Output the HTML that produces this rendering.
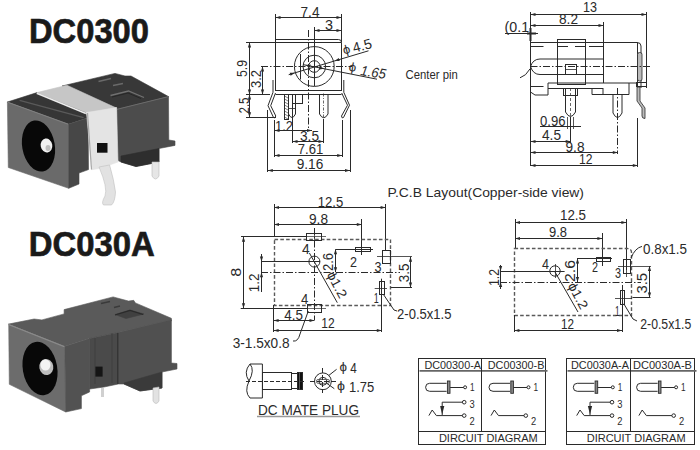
<!DOCTYPE html><html><head><meta charset="utf-8"><style>html,body{margin:0;padding:0;background:#fff;}svg{display:block;}text{font-family:"Liberation Sans",sans-serif;}</style></head><body>
<svg width="700" height="450" viewBox="0 0 700 450">
<rect width="700" height="450" fill="#ffffff"/>
<text x="29" y="43" font-size="35.5" fill="#1a1a1a" font-weight="bold" font-style="normal" text-anchor="start" textLength="120" lengthAdjust="spacingAndGlyphs" stroke="#1a1a1a" stroke-width="0.7">DC0300</text>
<text x="28.8" y="255.5" font-size="35.5" fill="#1a1a1a" font-weight="bold" font-style="normal" text-anchor="start" textLength="126" lengthAdjust="spacingAndGlyphs" stroke="#1a1a1a" stroke-width="0.7">DC030A</text>
<polygon points="62,86 115,73.4 125,76 131,76 168.5,96.6 116.6,109.4" fill="#383838" stroke="#383838" stroke-width="0.6"/>
<path d="M98.5,81.5 L111,78.5" stroke="#6a6a6a" stroke-width="1.5" fill="none"/>
<path d="M113,85.5 L123,83.5" stroke="#6a6a6a" stroke-width="1.5" fill="none"/>
<path d="M110.5,95.5 L128.5,91 L144,97.5" stroke="#707070" stroke-width="1.3" fill="none"/>
<path d="M112,97 L128,93 L141,98.5" stroke="#262626" stroke-width="1" fill="none"/>
<polygon points="116.6,109.4 168.5,96.6 168.8,140 175,141 175,145.4 159,148.5 159,162 136,166.5 121,162 117,160" fill="#4c4c4c" stroke="#4c4c4c" stroke-width="0.6"/>
<path d="M116.6,109.4 L168.5,96.6" stroke="#6a6a6a" stroke-width="1" fill="none"/>
<polygon points="121,156 159,148.5 159,162 136,166.5 121,162" fill="#2e2e2e" stroke="#2e2e2e" stroke-width="0.6"/>
<path d="M152,162 L159,162 L159,176 Q155.5,182 152,176 Z" fill="#e6e6e6" stroke="#bbb" stroke-width="0.6"/>
<polygon points="7.4,102 37,92.6 85.4,112 88,118 68.7,124.2" fill="#363636" stroke="#363636" stroke-width="0.6"/>
<path d="M19.6,100.3 L83.6,117.6" stroke="#5a5a5a" stroke-width="1.3" fill="none"/>
<polygon points="7.4,102 68.7,124.2 68.7,188.3 8.3,167.5" fill="#6a6a6a" stroke="#6a6a6a" stroke-width="0.6"/>
<path d="M7.8,102.3 L68.7,124.4 L87.5,118.3" stroke="#808080" stroke-width="1" fill="none"/>
<polygon points="68.7,124.2 88,118 88.5,169.6 79,173 79,184 68.7,188.3" fill="#474747" stroke="#474747" stroke-width="0.6"/>
<ellipse cx="38.5" cy="146" rx="16.3" ry="25.8" transform="rotate(-10 38.5 146)" fill="#080808"/>
<ellipse cx="46.5" cy="145.5" rx="5.8" ry="7" transform="rotate(-10 46.5 145.5)" fill="#f0f0f0"/>
<ellipse cx="48" cy="148" rx="2.5" ry="3" fill="#bdbdbd"/>
<polygon points="37,92.6 66.9,85.2 113.3,106.6 116.6,108 87.5,113 85.4,112" fill="#c6c6c6" stroke="#c6c6c6" stroke-width="0.6"/>
<path d="M36.7,93.2 L85.9,113.6" stroke="#ececec" stroke-width="1.6" fill="none"/>
<polygon points="86.5,112.6 116.6,107.6 118,162 109.6,165 99,168.6 91.7,169.7" fill="#e4e4e4" stroke="#e4e4e4" stroke-width="0.6"/>
<path d="M87.5,113 L91.5,169.5" stroke="#a8a8a8" stroke-width="1.2" fill="none"/>
<path d="M99,167 L109.6,165 Q114,180 115.5,192 Q115,202 111.5,205 L103.5,205 Q101,203 105,196 Q108,188 99,167 Z" fill="#e2e2e2" stroke="#c0c0c0" stroke-width="0.6"/>
<rect x="97" y="143" width="10.5" height="9.7" fill="#111"/>
<polygon points="8.4,324.1 34.1,319 41.9,319.9 64.1,313.9 64.1,309.6 113.1,296.9 128.6,301.1 133.7,300.3 135.4,302.9 171.4,318.3 171.4,320.9 118.3,332.5 89.6,338.5 64.8,346.5" fill="#5a5a5a" stroke="#5a5a5a" stroke-width="0.6"/>
<path d="M101,303.5 L110,301.5" stroke="#3a3a3a" stroke-width="1.4" fill="none"/>
<path d="M114,307.5 L120,306" stroke="#3a3a3a" stroke-width="1.4" fill="none"/>
<polygon points="115,314.5 130,310 144,314 126,318.5" fill="#404040" stroke="#404040" stroke-width="0.6"/>
<path d="M115,315 L130,310.5 L143,314.5" stroke="#2a2a2a" stroke-width="1.2" fill="none"/>
<polygon points="8.7,324.4 64.8,346.5 65.7,412 9.3,384.3" fill="#6c6c6c" stroke="#6c6c6c" stroke-width="0.6"/>
<path d="M9,324.7 L64.8,346.8 L89.6,338.8" stroke="#8a8a8a" stroke-width="1.1" fill="none"/>
<path d="M118.3,332.8 L171.4,320.2" stroke="#7a7a7a" stroke-width="1.1" fill="none"/>
<polygon points="64.8,346.5 89.6,338.5 89.6,392 81.4,395.7 81.4,408.6 65.7,412" fill="#525252" stroke="#525252" stroke-width="0.6"/>
<polygon points="89.6,338.5 118.3,332.5 118.3,384 104,387 89.6,389" fill="#4a4a4a" stroke="#4a4a4a" stroke-width="0.6"/>
<path d="M95,338 V384 M112,333 V383" stroke="#3c3c3c" stroke-width="0.8" fill="none"/>
<rect x="95.4" y="366.6" width="7.2" height="10" fill="#151515"/>
<path d="M101,388 L104,388 L104,397 L101,397 Z" fill="#d0d0d0"/>
<polygon points="118.3,332.5 171.4,319.8 171.4,363 177,363.5 177,369 162,372 162,388 140,391 124,384 118.3,384" fill="#505050" stroke="#505050" stroke-width="0.6"/>
<path d="M117.8,333 V384" stroke="#353535" stroke-width="1.6" fill="none"/>
<polygon points="124,383 162,372 162,388 140,391 124,384" fill="#3a3a3a" stroke="#3a3a3a" stroke-width="0.6"/>
<path d="M153,388 L159,387 L159,401 Q156,406 153,401 Z" fill="#e2e2e2" stroke="#bbb" stroke-width="0.6"/>
<ellipse cx="40" cy="368.5" rx="17.2" ry="27" transform="rotate(-10 40 368.5)" fill="#080808"/>
<ellipse cx="46.3" cy="367" rx="7" ry="8" transform="rotate(-10 46.3 367)" fill="#bdbdbd"/>
<ellipse cx="45.5" cy="365" rx="5" ry="5.5" fill="#f4f4f4"/>
<line x1="275.5" y1="17.5" x2="341.5" y2="17.5" stroke="#2a2a2a" stroke-width="1" />
<polygon points="275.5,17.5 280.5,15.9 280.5,19.1" fill="#2a2a2a" stroke="none" stroke-width="0"/>
<polygon points="341.5,17.5 336.5,19.1 336.5,15.9" fill="#2a2a2a" stroke="none" stroke-width="0"/>
<line x1="275.5" y1="14" x2="275.5" y2="91" stroke="#2a2a2a" stroke-width="1" />
<line x1="341.5" y1="14" x2="341.5" y2="42" stroke="#2a2a2a" stroke-width="1" />
<text x="300.5" y="17" font-size="14" fill="#2a2a2a" font-weight="normal" font-style="normal" text-anchor="start" textLength="19" lengthAdjust="spacingAndGlyphs">7.4</text>
<line x1="314.5" y1="30.5" x2="341.5" y2="30.5" stroke="#2a2a2a" stroke-width="1" />
<polygon points="314.5,30.5 319.5,28.9 319.5,32.1" fill="#2a2a2a" stroke="none" stroke-width="0"/>
<polygon points="341.5,30.5 336.5,32.1 336.5,28.9" fill="#2a2a2a" stroke="none" stroke-width="0"/>
<text x="325" y="29.5" font-size="14" fill="#2a2a2a" font-weight="normal" font-style="normal" text-anchor="start" textLength="8" lengthAdjust="spacingAndGlyphs">3</text>
<line x1="314.5" y1="27" x2="314.5" y2="86" stroke="#2a2a2a" stroke-width="1" />
<path d="M275.5,39.5 H338.5 Q341.5,39.5 341.5,42.5 V91" stroke="#2a2a2a" stroke-width="1" fill="none"/>
<line x1="275.5" y1="42.5" x2="341.5" y2="42.5" stroke="#2a2a2a" stroke-width="1" />
<line x1="275.5" y1="90.5" x2="341.5" y2="90.5" stroke="#2a2a2a" stroke-width="1" />
<line x1="275.5" y1="94.5" x2="341.5" y2="94.5" stroke="#2a2a2a" stroke-width="1" />
<line x1="261" y1="66.5" x2="352" y2="66.5" stroke="#2a2a2a" stroke-width="1" stroke-dasharray="7,2,1.5,2" />
<line x1="308.5" y1="30" x2="308.5" y2="131" stroke="#2a2a2a" stroke-width="1" stroke-dasharray="7,2,1.5,2" />
<circle cx="314.3" cy="66.5" r="19.9" fill="none" stroke="#2a2a2a" stroke-width="1"/>
<circle cx="314.3" cy="66.5" r="11.3" fill="none" stroke="#2a2a2a" stroke-width="1"/>
<circle cx="314.3" cy="66.5" r="5.8" fill="none" stroke="#2a2a2a" stroke-width="1"/>
<line x1="300.5" y1="54" x2="300.5" y2="79.5" stroke="#2a2a2a" stroke-width="1" />
<line x1="288.7" y1="74.7" x2="368.5" y2="50.8" stroke="#2a2a2a" stroke-width="1" />
<polygon points="295,72.8 290.66,75.76 289.75,72.69" fill="#2a2a2a" stroke="none" stroke-width="0"/>
<polygon points="334.5,61 338.84,58.04 339.75,61.11" fill="#2a2a2a" stroke="none" stroke-width="0"/>
<text x="344" y="54.5" font-size="12.5" fill="#2a2a2a" font-weight="normal" font-style="normal" text-anchor="start" textLength="7.3" lengthAdjust="spacingAndGlyphs" transform="rotate(-15 344 54.5)">ϕ</text>
<text x="354" y="52.8" font-size="14" fill="#2a2a2a" font-weight="normal" font-style="normal" text-anchor="start" textLength="19.5" lengthAdjust="spacingAndGlyphs" transform="rotate(-15 354 52.8)">4.5</text>
<line x1="303" y1="64.6" x2="377" y2="79.2" stroke="#2a2a2a" stroke-width="1" />
<polygon points="305.5,65.1 310.71,64.49 310.1,67.63" fill="#2a2a2a" stroke="none" stroke-width="0"/>
<polygon points="324.3,68.8 319.09,69.41 319.7,66.27" fill="#2a2a2a" stroke="none" stroke-width="0"/>
<text x="348.3" y="70.8" font-size="12.5" fill="#2a2a2a" font-weight="normal" font-style="normal" text-anchor="start" textLength="7.5" lengthAdjust="spacingAndGlyphs" transform="rotate(9 348.3 70.8)">ϕ</text>
<text x="360" y="75" font-size="14" fill="#2a2a2a" font-weight="normal" font-style="italic" text-anchor="start" textLength="25.5" lengthAdjust="spacingAndGlyphs" transform="rotate(9 360 75)">1.65</text>
<path d="M273,80 V92.3 L268,105.7 L273.5,117.5 Q275,119 275.8,116 L270.7,105.7 L275.5,93" stroke="#2a2a2a" stroke-width="1" fill="none"/>
<path d="M343.8,80 V92.3 L349.5,105.2 L343.5,117.5 Q341.8,119 341.5,116 L347.5,105.2 L341.7,93" stroke="#2a2a2a" stroke-width="1" fill="none"/>
<rect x="284.5" y="94.5" width="4.0" height="25.0" fill="none" stroke="#2a2a2a" stroke-width="1" rx="0"/>
<line x1="284.5" y1="96" x2="288" y2="98" stroke="#2a2a2a" stroke-width="0.6" />
<line x1="284.5" y1="99" x2="288" y2="101" stroke="#2a2a2a" stroke-width="0.6" />
<line x1="284.5" y1="102" x2="288" y2="104" stroke="#2a2a2a" stroke-width="0.6" />
<line x1="284.5" y1="105" x2="288" y2="107" stroke="#2a2a2a" stroke-width="0.6" />
<line x1="284.5" y1="108" x2="288" y2="110" stroke="#2a2a2a" stroke-width="0.6" />
<line x1="284.5" y1="111" x2="288" y2="113" stroke="#2a2a2a" stroke-width="0.6" />
<line x1="284.5" y1="114" x2="288" y2="116" stroke="#2a2a2a" stroke-width="0.6" />
<line x1="284.5" y1="117" x2="288" y2="119" stroke="#2a2a2a" stroke-width="0.6" />
<rect x="292.5" y="94.5" width="10.0" height="9.0" fill="none" stroke="#2a2a2a" stroke-width="1" rx="0"/>
<path d="M288.5,95 V114 Q292,121 295.5,114 V95" stroke="#2a2a2a" stroke-width="1" fill="none"/>
<line x1="288.5" y1="108.5" x2="296" y2="108.5" stroke="#2a2a2a" stroke-width="0.8" />
<line x1="292.5" y1="95" x2="292.5" y2="121" stroke="#2a2a2a" stroke-width="0.7" stroke-dasharray="2,1.5" />
<path d="M319.5,94.5 V114 Q323.7,121.5 328,114 V94.5" stroke="#2a2a2a" stroke-width="1" fill="none"/>
<line x1="323.5" y1="93.5" x2="323.5" y2="122" stroke="#2a2a2a" stroke-width="0.7" stroke-dasharray="3,1.5,1,1.5" />
<line x1="249.5" y1="42.5" x2="249.5" y2="94.5" stroke="#2a2a2a" stroke-width="1" />
<polygon points="249.5,42.5 251.1,47.5 247.9,47.5" fill="#2a2a2a" stroke="none" stroke-width="0"/>
<polygon points="249.5,94.5 247.9,89.5 251.1,89.5" fill="#2a2a2a" stroke="none" stroke-width="0"/>
<line x1="246" y1="42.5" x2="275.5" y2="42.5" stroke="#2a2a2a" stroke-width="1" />
<line x1="246" y1="94.5" x2="270" y2="94.5" stroke="#2a2a2a" stroke-width="1" />
<text x="246.5" y="77" font-size="14" fill="#2a2a2a" font-weight="normal" font-style="normal" text-anchor="start" textLength="17" lengthAdjust="spacingAndGlyphs" transform="rotate(-90 246.5 77)">5.9</text>
<line x1="262.5" y1="66.5" x2="262.5" y2="94.5" stroke="#2a2a2a" stroke-width="1" />
<polygon points="262.5,66.5 264.1,71.5 260.9,71.5" fill="#2a2a2a" stroke="none" stroke-width="0"/>
<polygon points="262.5,94.5 260.9,89.5 264.1,89.5" fill="#2a2a2a" stroke="none" stroke-width="0"/>
<text x="260.5" y="88" font-size="14" fill="#2a2a2a" font-weight="normal" font-style="normal" text-anchor="start" textLength="18" lengthAdjust="spacingAndGlyphs" transform="rotate(-90 260.5 88)">3.2</text>
<line x1="249.5" y1="94.5" x2="249.5" y2="117.3" stroke="#2a2a2a" stroke-width="1" />
<polygon points="249.5,94.5 251.1,99.5 247.9,99.5" fill="#2a2a2a" stroke="none" stroke-width="0"/>
<polygon points="249.5,117.3 247.9,112.3 251.1,112.3" fill="#2a2a2a" stroke="none" stroke-width="0"/>
<line x1="246" y1="117.5" x2="276" y2="117.5" stroke="#2a2a2a" stroke-width="1" />
<text x="248.5" y="113.5" font-size="14" fill="#2a2a2a" font-weight="normal" font-style="normal" text-anchor="start" textLength="16" lengthAdjust="spacingAndGlyphs" transform="rotate(-90 248.5 113.5)">2.5</text>
<line x1="274.5" y1="130.5" x2="312" y2="130.5" stroke="#2a2a2a" stroke-width="1" />
<polygon points="274.5,130.5 279.5,128.9 279.5,132.1" fill="#2a2a2a" stroke="none" stroke-width="0"/>
<polygon points="312,130.5 307.0,132.1 307.0,128.9" fill="#2a2a2a" stroke="none" stroke-width="0"/>
<text x="275" y="131" font-size="14" fill="#2a2a2a" font-weight="normal" font-style="normal" text-anchor="start" textLength="18" lengthAdjust="spacingAndGlyphs">1.2</text>
<line x1="274.5" y1="120" x2="274.5" y2="157" stroke="#2a2a2a" stroke-width="1" />
<line x1="292.5" y1="141.5" x2="323.5" y2="141.5" stroke="#2a2a2a" stroke-width="1" />
<polygon points="292.5,141.5 297.5,139.9 297.5,143.1" fill="#2a2a2a" stroke="none" stroke-width="0"/>
<polygon points="323.5,141.5 318.5,143.1 318.5,139.9" fill="#2a2a2a" stroke="none" stroke-width="0"/>
<line x1="292.5" y1="103" x2="292.5" y2="143" stroke="#2a2a2a" stroke-width="1" />
<line x1="323.5" y1="119" x2="323.5" y2="143" stroke="#2a2a2a" stroke-width="1" />
<text x="300" y="141" font-size="14" fill="#2a2a2a" font-weight="normal" font-style="normal" text-anchor="start" textLength="19" lengthAdjust="spacingAndGlyphs">3.5</text>
<line x1="274.5" y1="155.5" x2="342.2" y2="155.5" stroke="#2a2a2a" stroke-width="1" />
<polygon points="274.5,155.5 279.5,153.9 279.5,157.1" fill="#2a2a2a" stroke="none" stroke-width="0"/>
<polygon points="342.2,155.5 337.2,157.1 337.2,153.9" fill="#2a2a2a" stroke="none" stroke-width="0"/>
<line x1="342.5" y1="120" x2="342.5" y2="157" stroke="#2a2a2a" stroke-width="1" />
<text x="297.8" y="153.5" font-size="14" fill="#2a2a2a" font-weight="normal" font-style="normal" text-anchor="start" textLength="25.5" lengthAdjust="spacingAndGlyphs">7.61</text>
<line x1="267.8" y1="170.5" x2="350" y2="170.5" stroke="#2a2a2a" stroke-width="1" />
<polygon points="267.8,170.5 272.8,168.9 272.8,172.1" fill="#2a2a2a" stroke="none" stroke-width="0"/>
<polygon points="350,170.5 345.0,172.1 345.0,168.9" fill="#2a2a2a" stroke="none" stroke-width="0"/>
<line x1="267.5" y1="110" x2="267.5" y2="172" stroke="#2a2a2a" stroke-width="1" />
<line x1="350.5" y1="110" x2="350.5" y2="172" stroke="#2a2a2a" stroke-width="1" />
<text x="296.7" y="169" font-size="14" fill="#2a2a2a" font-weight="normal" font-style="normal" text-anchor="start" textLength="26.6" lengthAdjust="spacingAndGlyphs">9.16</text>
<text x="405.6" y="78.8" font-size="12.8" fill="#2a2a2a" font-weight="normal" font-style="normal" text-anchor="start" textLength="52.2" lengthAdjust="spacingAndGlyphs">Center pin</text>
<path d="M520,77.8 Q526,76 530,68.9" stroke="#2a2a2a" stroke-width="1" fill="none"/>
<line x1="530.5" y1="12" x2="530.5" y2="166" stroke="#2a2a2a" stroke-width="1" />
<line x1="530.5" y1="14.5" x2="646.5" y2="14.5" stroke="#2a2a2a" stroke-width="1" />
<polygon points="530.5,14.5 535.5,12.9 535.5,16.1" fill="#2a2a2a" stroke="none" stroke-width="0"/>
<polygon points="646.5,14.5 641.5,16.1 641.5,12.9" fill="#2a2a2a" stroke="none" stroke-width="0"/>
<line x1="646.5" y1="12" x2="646.5" y2="88" stroke="#2a2a2a" stroke-width="1" />
<text x="583" y="11.5" font-size="14" fill="#2a2a2a" font-weight="normal" font-style="normal" text-anchor="start" textLength="14" lengthAdjust="spacingAndGlyphs">13</text>
<line x1="530.5" y1="25.5" x2="603.5" y2="25.5" stroke="#2a2a2a" stroke-width="1" />
<polygon points="530.5,25.5 535.5,23.9 535.5,27.1" fill="#2a2a2a" stroke="none" stroke-width="0"/>
<polygon points="603.5,25.5 598.5,27.1 598.5,23.9" fill="#2a2a2a" stroke="none" stroke-width="0"/>
<line x1="603.5" y1="22" x2="603.5" y2="43" stroke="#2a2a2a" stroke-width="1" />
<text x="559" y="24" font-size="14" fill="#2a2a2a" font-weight="normal" font-style="normal" text-anchor="start" textLength="19" lengthAdjust="spacingAndGlyphs">8.2</text>
<line x1="505" y1="33.5" x2="538" y2="33.5" stroke="#2a2a2a" stroke-width="1" />
<line x1="530.5" y1="28" x2="530.5" y2="41" stroke="#2a2a2a" stroke-width="2" />
<line x1="527" y1="33.5" x2="536" y2="33.5" stroke="#2a2a2a" stroke-width="2" />
<text x="504.6" y="31.6" font-size="14" fill="#2a2a2a" font-weight="normal" font-style="normal" text-anchor="start" textLength="24.5" lengthAdjust="spacingAndGlyphs">(0.1</text>
<path d="M530.5,42.5 H637 Q641,42.5 641,46 V88" stroke="#2a2a2a" stroke-width="1" fill="none"/>
<line x1="637.5" y1="42.5" x2="637.5" y2="88" stroke="#2a2a2a" stroke-width="1" />
<rect x="637.5" y="52.5" width="4.5" height="28.5" rx="2" fill="#bbb" stroke="#2a2a2a" stroke-width="0.8"/>
<rect x="557.5" y="39.5" width="28.0" height="45.0" fill="none" stroke="#2a2a2a" stroke-width="1" rx="0"/>
<line x1="530.5" y1="46.5" x2="543.5" y2="46.5" stroke="#2a2a2a" stroke-width="1" />
<line x1="557.5" y1="46.5" x2="568" y2="46.5" stroke="#2a2a2a" stroke-width="1" />
<line x1="575" y1="46.5" x2="585" y2="46.5" stroke="#2a2a2a" stroke-width="1" />
<line x1="589" y1="46.5" x2="603" y2="46.5" stroke="#2a2a2a" stroke-width="1" />
<line x1="530.5" y1="66.5" x2="652" y2="66.5" stroke="#2a2a2a" stroke-width="1" stroke-dasharray="7,2,1.5,2" />
<path d="M603,59 H540 Q533,59 530.5,66.5 Q533,74.5 540,74.5 H603" stroke="#2a2a2a" stroke-width="1" fill="none"/>
<line x1="603.5" y1="41" x2="603.5" y2="83" stroke="#2a2a2a" stroke-width="1" />
<rect x="565.5" y="64.5" width="11.0" height="10.0" fill="none" stroke="#2a2a2a" stroke-width="1" rx="0"/>
<line x1="565.5" y1="69.5" x2="576" y2="69.5" stroke="#2a2a2a" stroke-width="0.8" />
<line x1="530.5" y1="86.5" x2="543.5" y2="86.5" stroke="#2a2a2a" stroke-width="1" />
<path d="M548,95 V83 H637" stroke="#2a2a2a" stroke-width="1" fill="none"/>
<line x1="548" y1="88.5" x2="603" y2="88.5" stroke="#2a2a2a" stroke-width="1" />
<path d="M530.5,92 L535,95 H548" stroke="#2a2a2a" stroke-width="1" fill="none"/>
<path d="M592,88 V94.5 H603 V88" stroke="#2a2a2a" stroke-width="1" fill="none"/>
<path d="M603,94.5 H629 V83" stroke="#2a2a2a" stroke-width="1" fill="none"/>
<path d="M565.5,88 V112 Q570.5,121 575.5,112 V88" stroke="#2a2a2a" stroke-width="1" fill="none"/>
<rect x="563.5" y="88.5" width="14.0" height="7.0" fill="none" stroke="#2a2a2a" stroke-width="1" rx="0"/>
<line x1="570.5" y1="88" x2="570.5" y2="128" stroke="#2a2a2a" stroke-width="0.7" stroke-dasharray="3,2" />
<path d="M613,94.5 V113 Q617.5,122 622,113 V94.5" stroke="#2a2a2a" stroke-width="1" fill="none"/>
<line x1="617.5" y1="88" x2="617.5" y2="154" stroke="#2a2a2a" stroke-width="1" stroke-dasharray="7,2,1.5,2" />
<path d="M637,87 V101 L642,108 V116 Q642,118.5 645,118.5 V108 L640,101 V87 Z" fill="#bbb" stroke="#2a2a2a" stroke-width="0.8"/>
<rect x="636.5" y="82.5" width="10.0" height="4.0" fill="none" stroke="#2a2a2a" stroke-width="1" rx="0"/>
<text x="540" y="125.5" font-size="14" fill="#2a2a2a" font-weight="normal" font-style="normal" text-anchor="start" textLength="25.5" lengthAdjust="spacingAndGlyphs">0.96</text>
<line x1="540" y1="126.5" x2="581" y2="126.5" stroke="#2a2a2a" stroke-width="1" />
<line x1="567.5" y1="117" x2="567.5" y2="129" stroke="#2a2a2a" stroke-width="0.8" />
<line x1="573.5" y1="117" x2="573.5" y2="129" stroke="#2a2a2a" stroke-width="0.8" />
<line x1="530.5" y1="141.5" x2="570.7" y2="141.5" stroke="#2a2a2a" stroke-width="1" />
<polygon points="530.5,141.5 535.5,139.9 535.5,143.1" fill="#2a2a2a" stroke="none" stroke-width="0"/>
<polygon points="570.7,141.5 565.7,143.1 565.7,139.9" fill="#2a2a2a" stroke="none" stroke-width="0"/>
<line x1="570.5" y1="117" x2="570.5" y2="143" stroke="#2a2a2a" stroke-width="1" />
<text x="542" y="140" font-size="14" fill="#2a2a2a" font-weight="normal" font-style="normal" text-anchor="start" textLength="19" lengthAdjust="spacingAndGlyphs">4.5</text>
<line x1="530.5" y1="152.5" x2="617.8" y2="152.5" stroke="#2a2a2a" stroke-width="1" />
<polygon points="530.5,152.5 535.5,150.9 535.5,154.1" fill="#2a2a2a" stroke="none" stroke-width="0"/>
<polygon points="617.8,152.5 612.8,154.1 612.8,150.9" fill="#2a2a2a" stroke="none" stroke-width="0"/>
<text x="565.5" y="151.5" font-size="14" fill="#2a2a2a" font-weight="normal" font-style="normal" text-anchor="start" textLength="19" lengthAdjust="spacingAndGlyphs">9.8</text>
<line x1="530.5" y1="165.5" x2="637.8" y2="165.5" stroke="#2a2a2a" stroke-width="1" />
<polygon points="530.5,165.5 535.5,163.9 535.5,167.1" fill="#2a2a2a" stroke="none" stroke-width="0"/>
<polygon points="637.8,165.5 632.8,167.1 632.8,163.9" fill="#2a2a2a" stroke="none" stroke-width="0"/>
<line x1="637.5" y1="118" x2="637.5" y2="167" stroke="#2a2a2a" stroke-width="1" />
<text x="579" y="163.5" font-size="14" fill="#2a2a2a" font-weight="normal" font-style="normal" text-anchor="start" textLength="13.5" lengthAdjust="spacingAndGlyphs">12</text>
<text x="387.5" y="196.6" font-size="13.5" fill="#2a2a2a" font-weight="normal" font-style="normal" text-anchor="start" textLength="196.5" lengthAdjust="spacingAndGlyphs">P.C.B Layout(Copper-side view)</text>
<line x1="274" y1="207.5" x2="385.6" y2="207.5" stroke="#2a2a2a" stroke-width="1" />
<polygon points="274,207.5 279.0,205.9 279.0,209.1" fill="#2a2a2a" stroke="none" stroke-width="0"/>
<polygon points="385.6,207.5 380.6,209.1 380.6,205.9" fill="#2a2a2a" stroke="none" stroke-width="0"/>
<line x1="274.5" y1="204" x2="274.5" y2="237" stroke="#2a2a2a" stroke-width="1" />
<line x1="385.5" y1="204" x2="385.5" y2="250" stroke="#2a2a2a" stroke-width="1" />
<text x="317.8" y="206.8" font-size="14" fill="#2a2a2a" font-weight="normal" font-style="normal" text-anchor="start" textLength="25.5" lengthAdjust="spacingAndGlyphs">12.5</text>
<line x1="274" y1="224.5" x2="361.8" y2="224.5" stroke="#2a2a2a" stroke-width="1" />
<polygon points="274,224.5 279.0,222.9 279.0,226.1" fill="#2a2a2a" stroke="none" stroke-width="0"/>
<polygon points="361.8,224.5 356.8,226.1 356.8,222.9" fill="#2a2a2a" stroke="none" stroke-width="0"/>
<line x1="361.5" y1="219" x2="361.5" y2="255" stroke="#2a2a2a" stroke-width="1" />
<text x="309" y="223.5" font-size="14" fill="#2a2a2a" font-weight="normal" font-style="normal" text-anchor="start" textLength="19" lengthAdjust="spacingAndGlyphs">9.8</text>
<line x1="241" y1="236.5" x2="307" y2="236.5" stroke="#2a2a2a" stroke-width="1" />
<path d="M274.5,239.5 H390.5 V305.5 H274.5 Z" stroke="#5a5a5a" stroke-width="1.4" fill="none" stroke-dasharray="3.6,2.2"/>
<rect x="306.5" y="233.5" width="15.0" height="7.0" fill="none" stroke="#2a2a2a" stroke-width="1" rx="0"/>
<line x1="302" y1="236.5" x2="326" y2="236.5" stroke="#2a2a2a" stroke-width="0.7" />
<line x1="314.5" y1="230" x2="314.5" y2="243" stroke="#2a2a2a" stroke-width="0.7" />
<rect x="307.5" y="304.5" width="14.0" height="8.0" fill="none" stroke="#2a2a2a" stroke-width="1" rx="0"/>
<line x1="302" y1="308.5" x2="326" y2="308.5" stroke="#2a2a2a" stroke-width="0.7" />
<line x1="314.5" y1="228" x2="314.5" y2="320" stroke="#2a2a2a" stroke-width="1" stroke-dasharray="7,2,1.5,2" />
<circle cx="314.4" cy="261.6" r="5.5" fill="none" stroke="#2a2a2a" stroke-width="1"/>
<rect x="355.5" y="247.5" width="15.0" height="4.0" fill="none" stroke="#2a2a2a" stroke-width="1" rx="0"/>
<line x1="335.6" y1="249.5" x2="373" y2="249.5" stroke="#2a2a2a" stroke-width="1" />
<rect x="382.5" y="250.5" width="8.0" height="13.0" fill="none" stroke="#2a2a2a" stroke-width="1" rx="0"/>
<line x1="377" y1="256.5" x2="412" y2="256.5" stroke="#2a2a2a" stroke-width="0.8" />
<rect x="379.5" y="281.5" width="5.0" height="13.0" fill="none" stroke="#2a2a2a" stroke-width="1" rx="0"/>
<line x1="374.7" y1="288.5" x2="387" y2="288.5" stroke="#2a2a2a" stroke-width="0.8" />
<line x1="381.5" y1="278.7" x2="381.5" y2="332" stroke="#2a2a2a" stroke-width="1" />
<line x1="261" y1="272.5" x2="400" y2="272.5" stroke="#2a2a2a" stroke-width="1" stroke-dasharray="7,2,1.5,2" />
<line x1="243.5" y1="236.7" x2="243.5" y2="308.3" stroke="#2a2a2a" stroke-width="1" />
<polygon points="243.5,236.7 245.1,241.7 241.9,241.7" fill="#2a2a2a" stroke="none" stroke-width="0"/>
<polygon points="243.5,308.3 241.9,303.3 245.1,303.3" fill="#2a2a2a" stroke="none" stroke-width="0"/>
<line x1="240.7" y1="308.5" x2="307" y2="308.5" stroke="#2a2a2a" stroke-width="1" />
<text x="241" y="276.7" font-size="14" fill="#2a2a2a" font-weight="normal" font-style="normal" text-anchor="start" textLength="9" lengthAdjust="spacingAndGlyphs" transform="rotate(-90 241 276.7)">8</text>
<line x1="261.5" y1="254" x2="261.5" y2="292" stroke="#2a2a2a" stroke-width="1" />
<polygon points="261.5,261.6 259.9,256.6 263.1,256.6" fill="#2a2a2a" stroke="none" stroke-width="0"/>
<polygon points="261.5,272.3 263.1,277.3 259.9,277.3" fill="#2a2a2a" stroke="none" stroke-width="0"/>
<line x1="261.5" y1="261.5" x2="320" y2="261.5" stroke="#2a2a2a" stroke-width="1" />
<text x="259.4" y="292.2" font-size="14" fill="#2a2a2a" font-weight="normal" font-style="normal" text-anchor="start" textLength="18.6" lengthAdjust="spacingAndGlyphs" transform="rotate(-90 259.4 292.2)">1.2</text>
<line x1="335.5" y1="249.3" x2="335.5" y2="272.3" stroke="#2a2a2a" stroke-width="1" />
<polygon points="335.5,249.3 337.1,254.3 333.9,254.3" fill="#2a2a2a" stroke="none" stroke-width="0"/>
<polygon points="335.5,272.3 333.9,267.3 337.1,267.3" fill="#2a2a2a" stroke="none" stroke-width="0"/>
<text x="333.3" y="271" font-size="14" fill="#2a2a2a" font-weight="normal" font-style="normal" text-anchor="start" textLength="18" lengthAdjust="spacingAndGlyphs" transform="rotate(-90 333.3 271)">2.6</text>
<text x="350" y="266.7" font-size="14" fill="#2a2a2a" font-weight="normal" font-style="normal" text-anchor="start" textLength="7" lengthAdjust="spacingAndGlyphs">2</text>
<text x="374.4" y="272.2" font-size="14" fill="#2a2a2a" font-weight="normal" font-style="normal" text-anchor="start" textLength="7" lengthAdjust="spacingAndGlyphs">3</text>
<text x="302" y="254.4" font-size="14" fill="#2a2a2a" font-weight="normal" font-style="normal" text-anchor="start" textLength="7.7" lengthAdjust="spacingAndGlyphs">4</text>
<text x="301" y="303.8" font-size="14" fill="#2a2a2a" font-weight="normal" font-style="normal" text-anchor="start" textLength="7.3" lengthAdjust="spacingAndGlyphs">4</text>
<text x="373.8" y="302.7" font-size="14" fill="#2a2a2a" font-weight="normal" font-style="normal" text-anchor="start" textLength="5" lengthAdjust="spacingAndGlyphs">1</text>
<line x1="309.4" y1="253" x2="337.3" y2="302.7" stroke="#2a2a2a" stroke-width="1" />
<text x="326.5" y="274.5" font-size="13" fill="#2a2a2a" font-weight="normal" font-style="normal" text-anchor="start" textLength="28" lengthAdjust="spacingAndGlyphs" transform="rotate(62 326.5 274.5)">ϕ1.2</text>
<line x1="410.5" y1="256.7" x2="410.5" y2="287.6" stroke="#2a2a2a" stroke-width="1" />
<polygon points="410.5,256.7 412.1,261.7 408.9,261.7" fill="#2a2a2a" stroke="none" stroke-width="0"/>
<polygon points="410.5,287.6 408.9,282.6 412.1,282.6" fill="#2a2a2a" stroke="none" stroke-width="0"/>
<line x1="390.7" y1="287.5" x2="412" y2="287.5" stroke="#2a2a2a" stroke-width="1" />
<text x="409.3" y="282.2" font-size="14" fill="#2a2a2a" font-weight="normal" font-style="normal" text-anchor="start" textLength="18.6" lengthAdjust="spacingAndGlyphs" transform="rotate(-90 409.3 282.2)">3.5</text>
<line x1="273.6" y1="320.5" x2="314.5" y2="320.5" stroke="#2a2a2a" stroke-width="1" />
<polygon points="273.6,320.5 278.6,318.9 278.6,322.1" fill="#2a2a2a" stroke="none" stroke-width="0"/>
<polygon points="314.5,320.5 309.5,322.1 309.5,318.9" fill="#2a2a2a" stroke="none" stroke-width="0"/>
<text x="284.3" y="319.8" font-size="14" fill="#2a2a2a" font-weight="normal" font-style="normal" text-anchor="start" textLength="18.7" lengthAdjust="spacingAndGlyphs">4.5</text>
<line x1="273.6" y1="330.5" x2="381.8" y2="330.5" stroke="#2a2a2a" stroke-width="1" />
<polygon points="273.6,330.5 278.6,328.9 278.6,332.1" fill="#2a2a2a" stroke="none" stroke-width="0"/>
<polygon points="381.8,330.5 376.8,332.1 376.8,328.9" fill="#2a2a2a" stroke="none" stroke-width="0"/>
<line x1="273.5" y1="305" x2="273.5" y2="332" stroke="#2a2a2a" stroke-width="1" />
<text x="321.3" y="328.4" font-size="14" fill="#2a2a2a" font-weight="normal" font-style="normal" text-anchor="start" textLength="13.4" lengthAdjust="spacingAndGlyphs">12</text>
<text x="232.7" y="348.3" font-size="14" fill="#2a2a2a" font-weight="normal" font-style="normal" text-anchor="start" textLength="56.9" lengthAdjust="spacingAndGlyphs">3-1.5x0.8</text>
<path d="M293,341 Q298,342 300,334 L308.3,311" stroke="#2a2a2a" stroke-width="1" fill="none"/>
<text x="397.1" y="318.6" font-size="14" fill="#2a2a2a" font-weight="normal" font-style="normal" text-anchor="start" textLength="54.3" lengthAdjust="spacingAndGlyphs">2-0.5x1.5</text>
<path d="M383.6,294.7 L394,310 L397,311" stroke="#2a2a2a" stroke-width="1" fill="none"/>
<line x1="515" y1="222.5" x2="626.4" y2="222.5" stroke="#2a2a2a" stroke-width="1" />
<polygon points="515,222.5 520.0,220.9 520.0,224.1" fill="#2a2a2a" stroke="none" stroke-width="0"/>
<polygon points="626.4,222.5 621.4,224.1 621.4,220.9" fill="#2a2a2a" stroke="none" stroke-width="0"/>
<line x1="515.5" y1="219" x2="515.5" y2="249" stroke="#2a2a2a" stroke-width="1" />
<line x1="626.5" y1="219" x2="626.5" y2="270" stroke="#2a2a2a" stroke-width="1" />
<text x="560" y="220" font-size="14" fill="#2a2a2a" font-weight="normal" font-style="normal" text-anchor="start" textLength="26" lengthAdjust="spacingAndGlyphs">12.5</text>
<line x1="515" y1="238.5" x2="602.4" y2="238.5" stroke="#2a2a2a" stroke-width="1" />
<polygon points="515,238.5 520.0,236.9 520.0,240.1" fill="#2a2a2a" stroke="none" stroke-width="0"/>
<polygon points="602.4,238.5 597.4,240.1 597.4,236.9" fill="#2a2a2a" stroke="none" stroke-width="0"/>
<line x1="602.5" y1="233" x2="602.5" y2="266" stroke="#2a2a2a" stroke-width="1" />
<text x="549" y="237" font-size="14" fill="#2a2a2a" font-weight="normal" font-style="normal" text-anchor="start" textLength="18" lengthAdjust="spacingAndGlyphs">9.8</text>
<path d="M514.5,248.5 H627 Q631.5,248.5 631.5,252.5 V315.5 H514.5 Z" stroke="#5a5a5a" stroke-width="1.4" fill="none" stroke-dasharray="3.6,2.2"/>
<circle cx="555" cy="271" r="5.2" fill="none" stroke="#2a2a2a" stroke-width="1"/>
<line x1="555.5" y1="264" x2="555.5" y2="278" stroke="#2a2a2a" stroke-width="0.8" />
<line x1="500.5" y1="265" x2="500.5" y2="289" stroke="#2a2a2a" stroke-width="1" />
<polygon points="500.6,271 499.0,266.0 502.2,266.0" fill="#2a2a2a" stroke="none" stroke-width="0"/>
<polygon points="500.6,282 502.2,287.0 499.0,287.0" fill="#2a2a2a" stroke="none" stroke-width="0"/>
<line x1="500.5" y1="271.5" x2="564.6" y2="271.5" stroke="#2a2a2a" stroke-width="1" />
<text x="499" y="286" font-size="14" fill="#2a2a2a" font-weight="normal" font-style="normal" text-anchor="start" textLength="17" lengthAdjust="spacingAndGlyphs" transform="rotate(-90 499 286)">1.2</text>
<line x1="500" y1="282.5" x2="641" y2="282.5" stroke="#2a2a2a" stroke-width="1" stroke-dasharray="7,2,1.5,2" />
<line x1="577.5" y1="258.6" x2="577.5" y2="282" stroke="#2a2a2a" stroke-width="1" />
<polygon points="577.5,258.6 579.1,263.6 575.9,263.6" fill="#2a2a2a" stroke="none" stroke-width="0"/>
<polygon points="577.5,282 575.9,277.0 579.1,277.0" fill="#2a2a2a" stroke="none" stroke-width="0"/>
<line x1="577" y1="258.5" x2="612" y2="258.5" stroke="#2a2a2a" stroke-width="1" />
<text x="575" y="282" font-size="14" fill="#2a2a2a" font-weight="normal" font-style="normal" text-anchor="start" textLength="22" lengthAdjust="spacingAndGlyphs" transform="rotate(-90 575 282)">2.6</text>
<rect x="596.5" y="257.5" width="14.0" height="4.0" fill="none" stroke="#2a2a2a" stroke-width="1" rx="0"/>
<text x="592" y="272" font-size="14" fill="#2a2a2a" font-weight="normal" font-style="normal" text-anchor="start" textLength="6" lengthAdjust="spacingAndGlyphs">2</text>
<rect x="623.5" y="259.5" width="7.0" height="14.0" fill="none" stroke="#2a2a2a" stroke-width="1" rx="0"/>
<line x1="618" y1="266.5" x2="651" y2="266.5" stroke="#2a2a2a" stroke-width="0.8" />
<line x1="626.5" y1="255" x2="626.5" y2="277" stroke="#2a2a2a" stroke-width="0.8" />
<text x="615" y="278" font-size="14" fill="#2a2a2a" font-weight="normal" font-style="normal" text-anchor="start" textLength="6" lengthAdjust="spacingAndGlyphs">3</text>
<text x="643" y="254" font-size="14" fill="#2a2a2a" font-weight="normal" font-style="normal" text-anchor="start" textLength="44" lengthAdjust="spacingAndGlyphs">0.8x1.5</text>
<path d="M631,258 Q635,248 642,246.4" stroke="#2a2a2a" stroke-width="1" fill="none"/>
<line x1="649.5" y1="266" x2="649.5" y2="297.5" stroke="#2a2a2a" stroke-width="1" />
<polygon points="649.5,266 651.1,271.0 647.9,271.0" fill="#2a2a2a" stroke="none" stroke-width="0"/>
<polygon points="649.5,297.5 647.9,292.5 651.1,292.5" fill="#2a2a2a" stroke="none" stroke-width="0"/>
<line x1="632.5" y1="297.5" x2="650.5" y2="297.5" stroke="#2a2a2a" stroke-width="1" />
<text x="647.4" y="293.6" font-size="14" fill="#2a2a2a" font-weight="normal" font-style="normal" text-anchor="start" textLength="20.6" lengthAdjust="spacingAndGlyphs" transform="rotate(-90 647.4 293.6)">3.5</text>
<text x="542" y="269" font-size="14" fill="#2a2a2a" font-weight="normal" font-style="normal" text-anchor="start" textLength="7" lengthAdjust="spacingAndGlyphs">4</text>
<line x1="555" y1="272" x2="578" y2="312" stroke="#2a2a2a" stroke-width="1" />
<text x="567.5" y="285.5" font-size="13" fill="#2a2a2a" font-weight="normal" font-style="normal" text-anchor="start" textLength="28" lengthAdjust="spacingAndGlyphs" transform="rotate(62 567.5 285.5)">ϕ1.2</text>
<rect x="620.5" y="290.5" width="4.0" height="14.0" fill="none" stroke="#2a2a2a" stroke-width="1" rx="0"/>
<line x1="615" y1="298.5" x2="632" y2="298.5" stroke="#2a2a2a" stroke-width="0.8" />
<line x1="622.5" y1="285" x2="622.5" y2="332" stroke="#2a2a2a" stroke-width="1" />
<text x="615" y="315.6" font-size="14" fill="#2a2a2a" font-weight="normal" font-style="normal" text-anchor="start" textLength="4.6" lengthAdjust="spacingAndGlyphs">1</text>
<line x1="514.4" y1="330.5" x2="622" y2="330.5" stroke="#2a2a2a" stroke-width="1" />
<polygon points="514.4,330.5 519.4,328.9 519.4,332.1" fill="#2a2a2a" stroke="none" stroke-width="0"/>
<polygon points="622,330.5 617.0,332.1 617.0,328.9" fill="#2a2a2a" stroke="none" stroke-width="0"/>
<line x1="514.5" y1="315" x2="514.5" y2="332" stroke="#2a2a2a" stroke-width="1" />
<text x="561" y="329" font-size="14" fill="#2a2a2a" font-weight="normal" font-style="normal" text-anchor="start" textLength="13" lengthAdjust="spacingAndGlyphs">12</text>
<text x="640.3" y="329" font-size="14" fill="#2a2a2a" font-weight="normal" font-style="normal" text-anchor="start" textLength="51" lengthAdjust="spacingAndGlyphs">2-0.5x1.5</text>
<path d="M623.8,303.8 L633,319 L637,321" stroke="#2a2a2a" stroke-width="1" fill="none"/>
<path d="M250,364 H262.4 V398 H250 Q244,392 249,381 Q255,370 250,364 Z" stroke="#2a2a2a" stroke-width="1" fill="none"/>
<path d="M249,381 Q243,372 250,364" stroke="#2a2a2a" stroke-width="1" fill="none"/>
<rect x="262.5" y="372.5" width="29.0" height="17.0" fill="none" stroke="#2a2a2a" stroke-width="1" rx="0"/>
<rect x="291.5" y="373.5" width="6.0" height="15.0" fill="none" stroke="#2a2a2a" stroke-width="1" rx="0"/>
<rect x="297.5" y="372.5" width="5.0" height="17.0" fill="#111" stroke="#2a2a2a" stroke-width="1" rx="0"/>
<line x1="299.5" y1="372.6" x2="299.5" y2="389.4" stroke="#666" stroke-width="0.8" />
<line x1="246" y1="381.5" x2="306" y2="381.5" stroke="#2a2a2a" stroke-width="1" stroke-dasharray="4,2" />
<circle cx="322.9" cy="381.3" r="8.4" fill="none" stroke="#2a2a2a" stroke-width="1"/>
<circle cx="322.9" cy="381.3" r="4" fill="none" stroke="#2a2a2a" stroke-width="1"/>
<rect x="316.5" y="379.5" width="13" height="3.8" rx="1.5" fill="none" stroke="#555" stroke-width="0.9"/>
<line x1="310" y1="381.5" x2="336" y2="381.5" stroke="#2a2a2a" stroke-width="1" stroke-dasharray="5,2" />
<line x1="322.5" y1="368" x2="322.5" y2="393" stroke="#2a2a2a" stroke-width="1" stroke-dasharray="5,2" />
<path d="M328.6,375.6 L336.6,369.3" stroke="#2a2a2a" stroke-width="1" fill="none"/>
<path d="M326.3,383 L334.3,388.7" stroke="#2a2a2a" stroke-width="1" fill="none"/>
<text x="339.4" y="371.3" font-size="12" fill="#2a2a2a" font-weight="normal" font-style="normal" text-anchor="start" textLength="7.5" lengthAdjust="spacingAndGlyphs">ϕ</text>
<text x="350.3" y="372.7" font-size="14" fill="#2a2a2a" font-weight="normal" font-style="normal" text-anchor="start" textLength="6.5" lengthAdjust="spacingAndGlyphs">4</text>
<text x="337.1" y="390" font-size="12" fill="#2a2a2a" font-weight="normal" font-style="normal" text-anchor="start" textLength="8" lengthAdjust="spacingAndGlyphs">ϕ</text>
<text x="349" y="391.6" font-size="14" fill="#2a2a2a" font-weight="normal" font-style="normal" text-anchor="start" textLength="25.3" lengthAdjust="spacingAndGlyphs">1.75</text>
<text x="258" y="415" font-size="14" fill="#2a2a2a" font-weight="normal" font-style="normal" text-anchor="start" textLength="101" lengthAdjust="spacingAndGlyphs">DC MATE PLUG</text>
<line x1="257" y1="416.5" x2="360" y2="416.5" stroke="#999" stroke-width="1.6" />
<rect x="418.5" y="358.5" width="127.0" height="86.0" fill="none" stroke="#2a2a2a" stroke-width="1" rx="0"/>
<line x1="419.5" y1="370.8" x2="547.5" y2="370.8" stroke="#666" stroke-width="1.8" />
<line x1="481.5" y1="358.5" x2="481.5" y2="431.5" stroke="#2a2a2a" stroke-width="1" />
<line x1="418.5" y1="431.5" x2="545.5" y2="431.5" stroke="#2a2a2a" stroke-width="1" />
<text x="424.4" y="369" font-size="11.2" fill="#2a2a2a" font-weight="normal" font-style="normal" text-anchor="start" textLength="56.6" lengthAdjust="spacingAndGlyphs">DC00300-A</text>
<text x="487.8" y="369" font-size="11.2" fill="#2a2a2a" font-weight="normal" font-style="normal" text-anchor="start" textLength="56.6" lengthAdjust="spacingAndGlyphs">DC00300-B</text>
<text x="438.9" y="441.8" font-size="11" fill="#2a2a2a" font-weight="normal" font-style="normal" text-anchor="start" textLength="98.9" lengthAdjust="spacingAndGlyphs">DIRCUIT DIAGRAM</text>
<path d="M446.6,383.3 H429.6 Q425.6,383.3 425.6,387.3 Q425.6,391.3 429.6,391.3 H446.6" stroke="#2a2a2a" stroke-width="1" fill="none"/>
<rect x="447.40000000000003" y="381.0" width="2.6" height="12.3" fill="#888" stroke="#2a2a2a" stroke-width="0.9"/>
<line x1="450.1" y1="387.5" x2="463.6" y2="387.5" stroke="#2a2a2a" stroke-width="1" />
<circle cx="465.1" cy="387.3" r="1.5" fill="none" stroke="#2a2a2a" stroke-width="1"/>
<text x="470.1" y="390.90000000000003" font-size="11.5" fill="#2a2a2a" font-weight="normal" font-style="normal" text-anchor="start" textLength="4.6" lengthAdjust="spacingAndGlyphs">1</text>
<path d="M428.9,415.6 L432.2,410 L436.4,415.6 H462.4" stroke="#2a2a2a" stroke-width="1" fill="none"/>
<circle cx="464.2" cy="415.6" r="1.8" fill="none" stroke="#2a2a2a" stroke-width="1"/>
<path d="M442.2,415 V402.2 H462.4" stroke="#2a2a2a" stroke-width="1" fill="none"/>
<circle cx="464.2" cy="402.2" r="1.8" fill="none" stroke="#2a2a2a" stroke-width="1"/>
<polygon points="440.09999999999997,406 444.29999999999995,406 442.2,414.5" fill="#2a2a2a" stroke="none" stroke-width="0"/>
<text x="469.4" y="407.5" font-size="11.5" fill="#2a2a2a" font-weight="normal" font-style="normal" text-anchor="start" textLength="5.2" lengthAdjust="spacingAndGlyphs">3</text>
<text x="469.4" y="424.8" font-size="11.5" fill="#2a2a2a" font-weight="normal" font-style="normal" text-anchor="start" textLength="5.2" lengthAdjust="spacingAndGlyphs">2</text>
<path d="M510,383.3 H493 Q489,383.3 489,387.3 Q489,391.3 493,391.3 H510" stroke="#2a2a2a" stroke-width="1" fill="none"/>
<rect x="510.8" y="381.0" width="2.6" height="12.3" fill="#888" stroke="#2a2a2a" stroke-width="0.9"/>
<line x1="513.5" y1="387.5" x2="527" y2="387.5" stroke="#2a2a2a" stroke-width="1" />
<circle cx="528.5" cy="387.3" r="1.5" fill="none" stroke="#2a2a2a" stroke-width="1"/>
<text x="533.5" y="390.90000000000003" font-size="11.5" fill="#2a2a2a" font-weight="normal" font-style="normal" text-anchor="start" textLength="4.6" lengthAdjust="spacingAndGlyphs">1</text>
<path d="M491,415.6 L494.3,410 L498.5,415.6 H524" stroke="#2a2a2a" stroke-width="1" fill="none"/>
<circle cx="525.8" cy="415.6" r="1.8" fill="none" stroke="#2a2a2a" stroke-width="1"/>
<text x="531" y="424.8" font-size="11.5" fill="#2a2a2a" font-weight="normal" font-style="normal" text-anchor="start" textLength="5.2" lengthAdjust="spacingAndGlyphs">2</text>
<rect x="566.5" y="358.5" width="128.0" height="86.0" fill="none" stroke="#2a2a2a" stroke-width="1" rx="0"/>
<line x1="567.5" y1="370.8" x2="696.5" y2="370.8" stroke="#666" stroke-width="1.8" />
<line x1="630.5" y1="358.5" x2="630.5" y2="431.5" stroke="#2a2a2a" stroke-width="1" />
<line x1="566.5" y1="431.5" x2="694.5" y2="431.5" stroke="#2a2a2a" stroke-width="1" />
<text x="571" y="369" font-size="11.2" fill="#2a2a2a" font-weight="normal" font-style="normal" text-anchor="start" textLength="58" lengthAdjust="spacingAndGlyphs">DC0030A-A</text>
<text x="633" y="369" font-size="11.2" fill="#2a2a2a" font-weight="normal" font-style="normal" text-anchor="start" textLength="59" lengthAdjust="spacingAndGlyphs">DC0030A-B</text>
<text x="586.7" y="441.8" font-size="11" fill="#2a2a2a" font-weight="normal" font-style="normal" text-anchor="start" textLength="98.9" lengthAdjust="spacingAndGlyphs">DIRCUIT DIAGRAM</text>
<path d="M594.3,383.3 H577.3 Q573.3,383.3 573.3,387.3 Q573.3,391.3 577.3,391.3 H594.3" stroke="#2a2a2a" stroke-width="1" fill="none"/>
<rect x="595.0999999999999" y="381.0" width="2.6" height="12.3" fill="#888" stroke="#2a2a2a" stroke-width="0.9"/>
<line x1="597.8" y1="387.5" x2="611.3" y2="387.5" stroke="#2a2a2a" stroke-width="1" />
<circle cx="612.8" cy="387.3" r="1.5" fill="none" stroke="#2a2a2a" stroke-width="1"/>
<text x="617.8" y="390.90000000000003" font-size="11.5" fill="#2a2a2a" font-weight="normal" font-style="normal" text-anchor="start" textLength="4.6" lengthAdjust="spacingAndGlyphs">1</text>
<path d="M576.7,415.6 L580.0,410 L584.2,415.6 H610.2" stroke="#2a2a2a" stroke-width="1" fill="none"/>
<circle cx="612.0" cy="415.6" r="1.8" fill="none" stroke="#2a2a2a" stroke-width="1"/>
<path d="M590.0,415 V402.2 H610.2" stroke="#2a2a2a" stroke-width="1" fill="none"/>
<circle cx="612.0" cy="402.2" r="1.8" fill="none" stroke="#2a2a2a" stroke-width="1"/>
<polygon points="587.9000000000001,406 592.1,406 590.0,414.5" fill="#2a2a2a" stroke="none" stroke-width="0"/>
<text x="617.2" y="407.5" font-size="11.5" fill="#2a2a2a" font-weight="normal" font-style="normal" text-anchor="start" textLength="5.2" lengthAdjust="spacingAndGlyphs">3</text>
<text x="617.2" y="424.8" font-size="11.5" fill="#2a2a2a" font-weight="normal" font-style="normal" text-anchor="start" textLength="5.2" lengthAdjust="spacingAndGlyphs">2</text>
<path d="M657.6,383.3 H640.6 Q636.6,383.3 636.6,387.3 Q636.6,391.3 640.6,391.3 H657.6" stroke="#2a2a2a" stroke-width="1" fill="none"/>
<rect x="658.4" y="381.0" width="2.6" height="12.3" fill="#888" stroke="#2a2a2a" stroke-width="0.9"/>
<line x1="661.1" y1="387.5" x2="674.6" y2="387.5" stroke="#2a2a2a" stroke-width="1" />
<circle cx="676.1" cy="387.3" r="1.5" fill="none" stroke="#2a2a2a" stroke-width="1"/>
<text x="681.1" y="390.90000000000003" font-size="11.5" fill="#2a2a2a" font-weight="normal" font-style="normal" text-anchor="start" textLength="4.6" lengthAdjust="spacingAndGlyphs">1</text>
<path d="M638.9,415.6 L642.1999999999999,410 L646.4,415.6 H671.9" stroke="#2a2a2a" stroke-width="1" fill="none"/>
<circle cx="673.6999999999999" cy="415.6" r="1.8" fill="none" stroke="#2a2a2a" stroke-width="1"/>
<text x="678.9" y="424.8" font-size="11.5" fill="#2a2a2a" font-weight="normal" font-style="normal" text-anchor="start" textLength="5.2" lengthAdjust="spacingAndGlyphs">2</text>
</svg></body></html>
